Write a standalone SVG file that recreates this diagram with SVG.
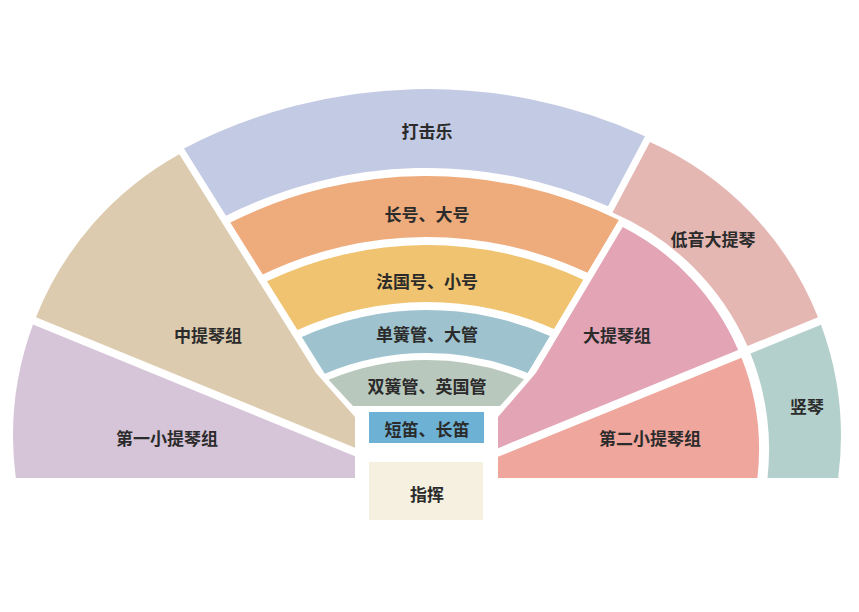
<svg xmlns="http://www.w3.org/2000/svg" width="859" height="612" viewBox="0 0 859 612">
<style>
  .lbl { font-family: "Noto Sans CJK SC", "Noto Sans", sans-serif; font-size: 17px; font-weight: 700; fill: #2b2b2b; text-anchor: middle; dominant-baseline: central; }
</style>
<rect x="0" y="0" width="859" height="612" fill="#ffffff"/>
<g id="perc">
  <path d="M184,148.5 A526 526 0 0 1 645,136.3 L608,206.3 A447 447 0 0 0 226,215.7 Z" fill="#c3cae3"/>
  <text class="lbl" x="427" y="130">打击乐</text>
</g>
<g id="brass">
  <path d="M230.3,222.5 A439 439 0 0 1 618.8,220.1 L587.4,272.8 A378 378 0 0 0 262.8,274.5 Z" fill="#eeab7c"/>
  <text class="lbl" x="427" y="213">长号、大号</text>
</g>
<g id="horn">
  <path d="M267,281.3 A370 370 0 0 1 583.3,279.7 L554,328.9 A313 313 0 0 0 297.5,330 Z" fill="#efc36f"/>
  <text class="lbl" x="427" y="280">法国号、小号</text>
</g>
<g id="clarinet">
  <path d="M301.8,336.9 A305 305 0 0 1 549.9,335.9 L527.7,373.1 A262 262 0 0 0 324.8,373.7 Z" fill="#9ec3cf"/>
  <text class="lbl" x="427" y="333">单簧管、大管</text>
</g>
<g id="oboe">
  <path d="M328.6,379.7 A255 255 0 0 1 524.1,379.2 L500,406 L353,406 Z" fill="#b9c8bd"/>
  <text class="lbl" x="427" y="385">双簧管、英国管</text>
</g>
<g id="flute">
  <rect x="369" y="412" width="115" height="31" fill="#6db2d4"/>
  <text class="lbl" x="427" y="428">短笛、长笛</text>
</g>
<g id="conductor">
  <rect x="369" y="462" width="114" height="58" fill="#f6f0e0"/>
  <text class="lbl" x="427" y="493">指挥</text>
</g>
<g id="viola">
  <path d="M179.3,154.2 L316,373 L355,417 L355,447.7 L36,317.2 A322 322 0 0 1 179.3,154.2 Z" fill="#dccbae"/>
  <text class="lbl" x="208" y="334">中提琴组</text>
</g>
<g id="violin1">
  <path d="M33,324.6 L355,456.3 L355,478 L15.8,478 A322 322 0 0 1 33,324.6 Z" fill="#d6c4d8"/>
  <text class="lbl" x="167" y="437">第一小提琴组</text>
</g>
<g id="cello">
  <path d="M622.7,227 A249 249 0 0 1 738.2,350 L498,448.2 L498,417 L535.9,373 Z" fill="#e3a5b6"/>
  <text class="lbl" x="617" y="334">大提琴组</text>
</g>
<g id="violin2">
  <path d="M498,456.8 L741.5,357.8 A249 249 0 0 1 757.4,478 L498,478 Z" fill="#efa69c"/>
  <text class="lbl" x="650" y="437">第二小提琴组</text>
</g>
<g id="bass">
  <path d="M650,142 A322 322 0 0 1 818,317.3 L747.5,346.1 A259 259 0 0 0 612.5,212.5 Z" fill="#e4b7b3"/>
  <text class="lbl" x="713" y="238">低音大提琴</text>
</g>
<g id="harp">
  <path d="M821,324.7 A322 322 0 0 1 838.2,478 L767.5,478 A259 259 0 0 0 750.5,353.5 Z" fill="#b4d0cc"/>
  <text class="lbl" x="807" y="405">竖琴</text>
</g>
</svg>
